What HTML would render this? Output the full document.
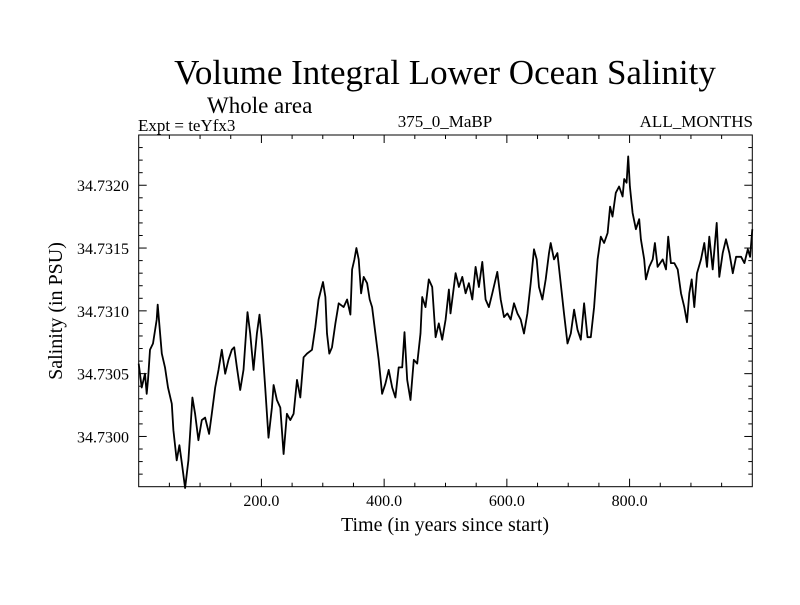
<!DOCTYPE html>
<html><head><meta charset="utf-8"><style>
body{margin:0;background:#fff;}
svg text{font-family:"Liberation Serif",serif;fill:#000;}
</style></head><body>
<svg id="chart" width="800" height="600" xmlns="http://www.w3.org/2000/svg">
<text x="445" y="84" font-size="35" text-anchor="middle">Volume Integral Lower Ocean Salinity</text>
<text x="207" y="113" font-size="23">Whole area</text>
<text x="138" y="131" font-size="17">Expt = teYfx3</text>
<text x="445" y="127" font-size="17" text-anchor="middle">375_0_MaBP</text>
<text x="753" y="127" font-size="17" text-anchor="end">ALL_MONTHS</text>
<text x="445" y="531" font-size="20" text-anchor="middle">Time (in years since start)</text>
<text x="0" y="0" font-size="20" text-anchor="middle" transform="translate(62,311) rotate(-90)">Salinity (in PSU)</text>
<g id="ticks"></g>
<g id="labels"></g>
<path id="series" fill="none" stroke="#000" stroke-width="1.8" stroke-linejoin="round"/>
<rect x="138.7" y="135" width="613.6" height="351.7" fill="none" stroke="#000" stroke-width="1"/>
</svg>
<script>
const years=[0,4.9,10.3,13.1,15.2,18.4,23.3,29.4,31,34.8,37.6,42.9,47.8,53.9,56.5,62,66.3,70.2,75.6,81,83.8,87.5,91.9,97.3,102.9,108.2,114.8,119.2,124.6,130,135.5,140.9,146.3,151.8,155.6,160,165.4,170.8,177.3,181.7,187.1,192.7,196.9,200.8,206.2,211.6,217.1,219.8,225.3,230.7,236.1,241.6,247,252.4,258,263.3,268.7,274.3,282.4,287.8,293.2,300.4,304.2,306.9,310.7,315.1,320.5,325.9,334,339.6,345,347.8,351.5,354.8,358.5,362.4,366.7,372.2,376.5,380.4,385.8,391.2,396.7,402.1,407.5,413.1,418.4,423.8,429.4,433.1,437.6,442.9,448.3,453.9,459.3,462,467.4,472.8,478.4,483.8,489.1,494.7,500.1,505.5,508.2,516.4,521.8,527.3,532.7,538.1,543.7,549.1,554.4,560,565.4,570.8,576.3,584.5,589.9,595.3,600.8,606.2,611.6,617.1,622.5,627.9,633.5,638.9,644.2,648.7,652.4,658,663.3,668.7,671.5,676.9,682.4,687.8,693.2,698.8,704.2,709.6,715.1,720.5,725.9,731.4,736.8,742.2,747.8,753.1,758.5,764.1,768.3,772.2,777.6,783,788.6,791.2,795.1,797.7,800.5,804.9,810.3,815.7,818.4,823.8,826.6,832,837.6,841.3,845.7,853.9,859.3,863,867.4,872.8,878.4,883.8,889.1,893.6,897.3,901.2,905.5,909.9,916.4,921.8,926.2,930,935.5,942,946.3,951.8,957.2,962.6,968.2,973.6,981.7,987.1,992.7,996.4,1000];
const salinity=[34.73058,34.73039,34.73050,34.73034,34.73045,34.73069,34.73074,34.73093,34.73105,34.73082,34.73066,34.73055,34.73039,34.73026,34.73005,34.72981,34.72993,34.72979,34.72959,34.72981,34.73002,34.73031,34.73018,34.72997,34.73013,34.73015,34.73002,34.73018,34.73039,34.73053,34.73069,34.73050,34.73061,34.73069,34.73071,34.73055,34.73037,34.73053,34.73099,34.73082,34.73053,34.73082,34.73097,34.73077,34.73039,34.72999,34.73023,34.73041,34.73029,34.73023,34.72986,34.73018,34.73013,34.73018,34.73045,34.73031,34.73063,34.73066,34.73069,34.73087,34.73109,34.73123,34.73111,34.73082,34.73066,34.73071,34.73090,34.73106,34.73103,34.73109,34.73097,34.73133,34.73141,34.73150,34.73141,34.73114,34.73127,34.73122,34.73109,34.73103,34.73082,34.73061,34.73034,34.73042,34.73053,34.73039,34.73031,34.73055,34.73055,34.73083,34.73045,34.73029,34.73061,34.73058,34.73082,34.73111,34.73103,34.73125,34.73119,34.73079,34.73090,34.73077,34.73093,34.73117,34.73098,34.73130,34.73119,34.73127,34.73114,34.73122,34.73109,34.73135,34.73119,34.73139,34.73109,34.73103,34.73114,34.73131,34.73109,34.73095,34.73098,34.73093,34.73106,34.73098,34.73093,34.73082,34.73098,34.73122,34.73149,34.73141,34.73119,34.73109,34.73125,34.73146,34.73154,34.73141,34.73146,34.73122,34.73098,34.73074,34.73082,34.73101,34.73085,34.73077,34.73106,34.73079,34.73079,34.73103,34.73141,34.73159,34.73154,34.73162,34.73183,34.73175,34.73194,34.73199,34.73191,34.73205,34.73202,34.73223,34.73199,34.73178,34.73165,34.73173,34.73157,34.73141,34.73125,34.73135,34.73141,34.73154,34.73135,34.73141,34.73133,34.73159,34.73138,34.73138,34.73133,34.73114,34.73103,34.73091,34.73114,34.73125,34.73103,34.73130,34.73141,34.73154,34.73135,34.73159,34.73133,34.73170,34.73127,34.73146,34.73157,34.73146,34.73130,34.73143,34.73143,34.73138,34.73149,34.73143,34.73165];
const xTickLabels=["200.0","400.0","600.0","800.0"];
const xTickValues=[200,400,600,800];
const yTickLabels=["34.7300","34.7305","34.7310","34.7315","34.7320"];
const yTickValues=[34.7300,34.7305,34.7310,34.7315,34.7320];

const L=138.7,R=752.3,T=135,B=486.7,X0=0,X1=1000,Y0=34.7296,Y1=34.7324;
function xs(v){return L+(v-X0)/(X1-X0)*(R-L);}
function ys(v){return B-(v-Y0)/(Y1-Y0)*(B-T);}
const NS="http://www.w3.org/2000/svg";
const tg=document.getElementById('ticks'),lg=document.getElementById('labels');
function line(x1,y1,x2,y2,name){const l=document.createElementNS(NS,'line');
l.setAttribute('x1',x1);l.setAttribute('y1',y1);l.setAttribute('x2',x2);l.setAttribute('y2',y2);
l.setAttribute('stroke','#000');l.setAttribute('stroke-width','1');


tg.appendChild(l);}
for(let v=50;v<1000;v+=50){const x=xs(v),len=(v%200===0)?8:4;line(x,B,x,B-len,'x-tick');line(x,T,x,T+len,'x-tick-top');}
for(let i=1;i<28;i++){const v=Y0+i*0.0001,y=ys(v),len=(i%5===4)?8:4;line(L,y,L+len,y,'y-tick');line(R,y,R-len,y,'y-tick-right');}
xTickValues.forEach((v,i)=>{const t=document.createElementNS(NS,'text');
t.setAttribute('x',xs(v));t.setAttribute('y',506);t.setAttribute('font-size','16');t.setAttribute('text-anchor','middle');
t.textContent=xTickLabels[i];


lg.appendChild(t);});
yTickValues.forEach((v,i)=>{const t=document.createElementNS(NS,'text');
t.setAttribute('x',129);t.setAttribute('y',ys(v)+6);t.setAttribute('font-size','16');t.setAttribute('text-anchor','end');
t.textContent=yTickLabels[i];


lg.appendChild(t);});
let d='';years.forEach((yr,i)=>{d+=(i?'L':'M')+xs(yr).toFixed(1)+' '+ys(salinity[i]).toFixed(1);});
document.getElementById('series').setAttribute('d',d);
</script>
</body></html>
